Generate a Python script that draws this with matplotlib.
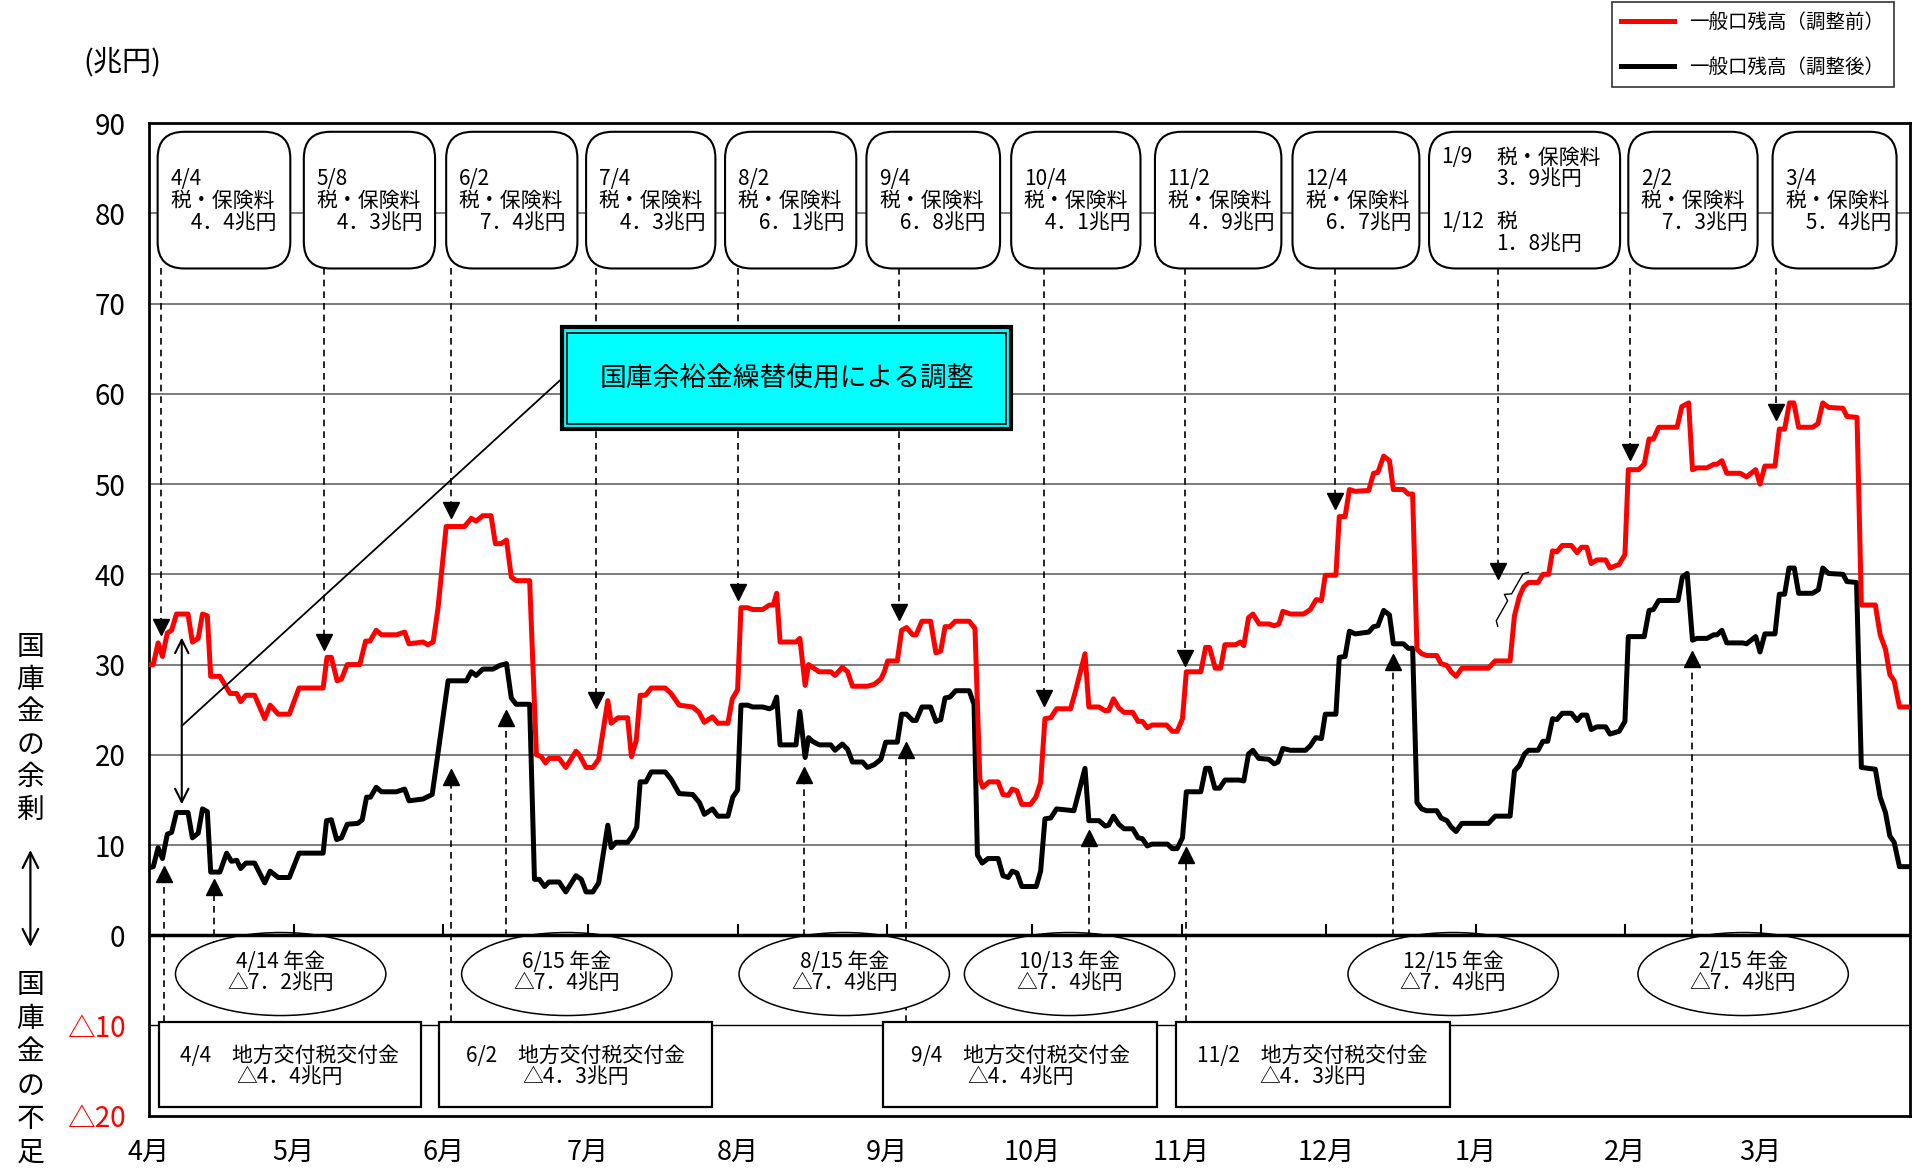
import matplotlib
matplotlib.use('Agg')
import matplotlib.pyplot as plt
from matplotlib.patches import FancyBboxPatch, Ellipse, Rectangle

plt.rcParams['font.family'] = ['Noto Sans CJK JP', 'DejaVu Sans']

# 年度の日数（4月1日 = 0）
month_names = ['4月', '5月', '6月', '7月', '8月', '9月', '10月', '11月', '12月', '1月', '2月', '3月']
month_days = [30, 31, 30, 31, 31, 30, 31, 30, 31, 31, 28, 31]

# 一般口残高（調整前）
red_day = [0.2, 0.9, 1.9, 2.8, 3.8, 4.7, 5.7, 8.1, 9.0, 10.2, 11.1, 12.1, 12.8, 14.7, 16.8, 18.2,
           19.0, 20.1, 21.9, 24.0, 25.1, 26.8, 29.1, 31.1, 36.1, 36.9, 37.8, 39.0, 39.9, 41.1, 43.7,
           44.9, 45.8, 47.1, 48.2, 51.3, 53.0, 53.9, 56.8, 57.8, 58.9, 59.9, 61.6, 65.4, 66.8, 67.8,
           69.2, 70.9, 71.8, 73.0, 74.1, 75.1, 76.1, 78.9, 80.3, 81.3, 82.2, 82.9, 85.0, 86.4, 88.5,
           89.2, 90.6, 92.0, 93.2, 95.1, 95.8, 97.2, 99.2, 100.0, 101.0, 101.8, 102.9, 104.1, 107.0,
           108.2, 109.9, 112.7, 114.0, 115.1, 116.8, 117.9, 120.0, 120.9, 122.0, 122.7, 124.1, 125.1,
           127.2, 128.6, 129.4, 130.1, 130.8, 134.1, 134.9, 136.0, 136.7, 137.5, 138.9, 141.3, 142.2,
           143.7, 144.8, 145.8, 148.9, 150.3, 151.7, 152.4, 153.1, 155.1, 156.0, 157.0, 158.3, 159.0,
           160.2, 162.0, 163.1, 164.1, 165.0, 166.0, 167.1, 170.0, 171.2, 172.2, 172.8, 174.1, 176.0,
           177.0, 178.1, 178.9, 179.9, 180.9, 182.7, 183.8, 184.8, 185.7, 186.9, 188.1, 191.0, 192.0,
           194.0, 194.8, 196.9, 198.1, 198.9, 199.9, 201.0, 202.1, 203.9, 205.0, 205.9, 206.9, 207.9,
           210.9, 212.1, 213.1, 214.2, 215.0, 218.0, 219.0, 219.8, 221.0, 222.1, 223.0, 225.2, 226.2,
           226.9, 227.9, 228.8, 230.1, 232.1, 233.2, 234.2, 235.0, 236.6, 239.3, 240.7, 241.9, 243.0,
           243.8, 246.0, 246.7, 247.9, 248.8, 250.0, 252.8, 253.8, 254.7, 255.9, 257.1, 257.9, 260.0,
           261.0, 261.9, 262.8, 263.8, 264.8, 266.9, 267.8, 269.0, 269.9, 270.9, 272.1, 277.6, 279.0,
           282.1, 283.0, 284.0, 284.9, 285.9, 287.9, 288.9, 290.1, 290.9, 291.8, 292.9, 294.8, 296.0,
           296.9, 298.0, 298.9, 300.1, 301.9, 302.8, 304.7, 305.9, 306.6, 308.7, 309.9, 310.9, 311.8,
           312.9, 316.7, 317.7, 319.1, 319.9, 320.8, 322.9, 324.3, 325.0, 326.0, 327.0, 329.8, 331.1,
           333.0, 333.9, 334.9, 337.0, 337.9, 339.0, 340.0, 340.9, 341.9, 344.8, 345.9, 346.9, 348.1,
           351.1, 351.9, 354.0, 354.9, 357.8, 358.8, 359.9, 360.8, 361.7, 362.8, 365.0]
red_val = [30.0, 30.0, 32.4, 30.9, 33.5, 33.8, 35.6, 35.6, 32.5, 32.9, 35.6, 35.4, 28.7, 28.7, 26.8, 26.8,
           25.9, 26.6, 26.6, 24.0, 25.5, 24.5, 24.5, 27.4, 27.4, 30.8, 30.8, 28.2, 28.4, 30.0, 30.0,
           32.6, 32.6, 33.8, 33.3, 33.3, 33.6, 32.3, 32.5, 32.2, 32.5, 36.2, 45.3, 45.3, 46.2, 45.9,
           46.5, 46.5, 43.4, 43.4, 43.8, 39.7, 39.3, 39.3, 20.0, 19.8, 19.1, 19.6, 19.6, 18.6, 20.4,
           20.0, 18.6, 18.6, 19.5, 26.0, 23.5, 24.1, 24.1, 19.8, 21.6, 26.6, 26.6, 27.4, 27.4,
           26.8, 25.5, 25.3, 24.7, 23.6, 24.2, 23.5, 23.5, 26.2, 27.2, 36.3, 36.3, 36.1,
           36.1, 36.6, 36.6, 37.9, 32.5, 32.5, 32.9, 27.7, 30.0, 29.7, 29.2, 29.2, 28.8,
           29.7, 29.2, 27.6, 27.6, 27.8, 28.4, 29.2, 30.4, 30.4, 33.8, 34.1, 33.3, 33.3,
           34.8, 34.8, 31.3, 31.5, 34.2, 34.2, 34.8, 34.8, 34.0, 17.3, 16.4, 17.0, 17.0,
           15.6, 15.5, 16.2, 16.0, 14.5, 14.5, 15.3, 16.9, 24.0, 24.1, 25.1, 25.1, 27.0,
           31.2, 25.3, 25.3, 24.9, 24.9, 26.2, 25.2, 24.7, 24.7, 23.7, 23.7, 23.0, 23.3,
           23.3, 22.6, 22.6, 24.0, 29.2, 29.2, 31.9, 31.9, 29.6, 29.6, 32.2, 32.2, 32.5,
           32.1, 35.2, 35.6, 34.5, 34.5, 34.3, 34.5, 35.9, 35.6, 35.6, 36.1, 37.2, 37.1,
           39.9, 39.9, 46.4, 46.4, 49.4, 49.2, 49.3, 51.2, 51.3, 53.1, 52.6, 49.4, 49.4,
           48.9, 48.9, 31.7, 31.2, 31.0, 31.0, 30.1, 29.9, 29.2, 28.7, 29.6, 29.6, 30.4,
           30.4, 35.4, 37.5, 38.6, 39.1, 39.1, 40.0, 40.0, 42.6, 42.5, 43.2, 43.2, 42.4,
           43.0, 43.0, 41.2, 41.6, 41.6, 40.7, 41.1, 42.2, 51.6, 51.6, 52.2, 55.0, 55.0,
           56.3, 56.3, 58.6, 59.0, 51.6, 51.8, 51.8, 52.2, 52.2, 52.6, 51.2, 51.2, 50.8,
           51.6, 50.0, 52.0, 52.0, 56.1, 56.1, 59.0, 59.0, 56.3, 56.3, 56.7, 59.0, 58.5,
           58.4, 57.5, 57.4, 36.6, 36.6, 33.3, 31.7, 28.9, 28.2, 25.3, 25.3]

# 一般口残高（調整後）
black_day = [0.2, 0.9, 1.9, 2.8, 3.8, 4.7, 5.7, 8.1, 9.0, 10.2, 11.1, 12.1, 12.8, 14.7, 16.1, 17.1,
             18.2, 19.0, 20.1, 21.9, 24.0, 25.1, 26.8, 29.1, 31.1, 36.1, 36.8, 37.8, 38.9, 39.9, 41.1,
             43.3, 44.2, 45.1, 45.9, 47.1, 48.2, 51.3, 53.0, 53.9, 56.8, 58.7, 59.6, 62.0, 65.8, 66.8,
             67.8, 69.2, 71.3, 72.7, 74.1, 75.1, 76.1, 78.9, 79.9, 80.9, 82.0, 82.9, 85.0, 86.4, 88.5,
             89.6, 90.6, 92.0, 93.2, 95.1, 95.8, 96.8, 99.2, 100.2, 101.1, 101.8, 103.0, 104.1, 107.0,
             108.2, 109.9, 112.7, 114.1, 115.1, 116.8, 117.9, 120.0, 121.0, 122.0, 122.7, 124.1, 125.1,
             127.2, 128.6, 129.3, 130.1, 130.8, 134.1, 134.9, 136.0, 136.7, 137.5, 138.9, 141.3, 142.2,
             143.7, 144.8, 145.8, 147.9, 148.9, 150.3, 151.7, 152.7, 155.1, 156.0, 157.0, 158.3, 159.0,
             160.2, 162.0, 163.1, 164.1, 165.0, 166.0, 167.2, 170.0, 171.0, 171.7, 172.7, 173.9, 176.0,
             177.0, 178.1, 178.9, 179.9, 180.9, 183.9, 184.8, 185.7, 186.9, 188.1, 191.7, 194.0, 194.8,
             196.9, 198.2, 198.9, 199.9, 201.0, 202.1, 203.9, 205.0, 205.9, 206.9, 207.9, 211.1, 212.1,
             213.1, 214.2, 215.0, 218.0, 219.0, 219.8, 220.9, 221.9, 223.0, 225.9, 226.9, 227.9, 228.8,
             230.0, 232.1, 233.2, 234.0, 235.0, 236.6, 239.7, 240.7, 241.8, 243.0, 243.8, 246.0, 246.7,
             247.9, 248.8, 250.0, 252.8, 253.8, 254.7, 255.9, 257.1, 257.9, 260.0, 261.0, 261.9, 262.8,
             263.8, 264.8, 266.9, 267.8, 269.0, 269.9, 270.9, 272.1, 277.6, 279.0, 282.1, 283.0, 284.0,
             285.1, 285.9, 287.9, 288.9, 289.9, 290.9, 291.8, 292.9, 294.8, 296.0, 296.9, 298.0, 298.9,
             300.1, 301.9, 302.8, 304.7, 305.9, 306.6, 309.9, 310.9, 311.8, 312.9, 316.9, 317.8, 318.8,
             319.9, 320.8, 322.9, 324.3, 325.0, 326.0, 327.0, 330.3, 331.1, 333.0, 333.9, 334.9, 337.0,
             337.9, 339.0, 339.9, 341.0, 341.9, 344.8, 346.0, 346.9, 348.1, 351.1, 351.9, 353.9, 354.9,
             357.8, 358.8, 359.9, 360.8, 361.7, 362.8, 365.0]
black_val = [7.5, 7.6, 9.7, 8.5, 11.2, 11.4, 13.6, 13.6, 10.8, 11.3, 14.0, 13.7, 7.0, 7.0, 9.1, 8.2,
             8.3, 7.4, 8.0, 8.0, 5.8, 7.1, 6.4, 6.4, 9.1, 9.1, 12.7, 12.8, 10.6, 10.8, 12.3,
             12.4, 12.8, 15.3, 15.3, 16.4, 15.9, 15.9, 16.2, 14.9, 15.1, 15.6, 19.0, 28.2, 28.2, 29.2,
             28.8, 29.5, 29.5, 29.9, 30.1, 26.3, 25.6, 25.6, 6.2, 6.2, 5.4, 5.9, 5.9, 4.8, 6.6,
             6.2, 4.8, 4.8, 5.8, 12.2, 9.7, 10.3, 10.3, 11.0, 12.0, 17.0, 17.0, 18.1, 18.1,
             17.3, 15.7, 15.6, 14.7, 13.4, 14.0, 13.2, 13.2, 15.3, 16.1, 25.5, 25.5, 25.3,
             25.3, 25.1, 25.3, 26.4, 21.1, 21.1, 24.8, 19.7, 21.9, 21.5, 21.1, 21.1, 20.5,
             21.2, 20.6, 19.2, 19.2, 18.6, 18.9, 19.5, 21.4, 21.4, 24.5, 24.5, 23.8, 23.8,
             25.3, 25.3, 23.7, 23.9, 26.3, 26.4, 27.1, 27.1, 25.6, 8.9, 8.0, 8.5, 8.5,
             6.6, 6.4, 7.1, 6.9, 5.4, 5.4, 7.1, 12.9, 13.0, 14.0, 13.8, 18.5, 12.7,
             12.7, 12.1, 12.2, 13.2, 12.3, 11.8, 11.8, 10.8, 10.7, 9.9, 10.1, 10.1, 9.6,
             9.6, 10.8, 15.9, 15.9, 18.5, 18.5, 16.3, 16.3, 17.2, 17.2, 17.1, 20.1, 20.5,
             19.6, 19.5, 19.0, 19.2, 20.7, 20.5, 20.5, 21.0, 21.9, 21.8, 24.5, 24.5, 30.8,
             30.9, 33.7, 33.4, 33.6, 34.2, 34.3, 36.0, 35.5, 32.3, 32.3, 31.8, 31.8, 14.7,
             14.0, 13.8, 13.8, 13.0, 12.7, 12.0, 11.5, 12.4, 12.4, 13.2, 13.2, 18.2, 18.8,
             20.1, 20.5, 20.5, 21.5, 21.5, 24.0, 23.9, 24.6, 24.6, 23.8, 24.4, 24.4, 22.8,
             23.1, 23.1, 22.3, 22.6, 23.7, 33.1, 33.1, 36.0, 36.1, 37.1, 37.1, 39.7, 40.1,
             32.7, 32.9, 32.9, 33.3, 33.3, 33.8, 32.4, 32.4, 32.3, 33.1, 31.4, 33.4, 33.4,
             37.8, 37.8, 40.7, 40.7, 37.9, 37.9, 38.3, 40.7, 40.1, 40.0, 39.2, 39.1, 18.6,
             18.4, 15.3, 13.6, 11.0, 10.3, 7.6, 7.6]

# 税・保険料（上段の注記）
tax_dates = ['4/4', '5/8', '6/2', '7/4', '8/2', '9/4', '10/4', '11/2', '12/4', '2/2', '3/4']
tax_amounts = [4.4, 4.3, 7.4, 4.3, 6.1, 6.8, 4.1, 4.9, 6.7, 7.3, 5.4]
tax_box_x = [(1.8, 29.3), (32.1, 59.3), (61.6, 88.8), (90.6, 117.4), (119.4, 146.6),
             (148.7, 176.4), (178.7, 205.5), (208.5, 234.7), (237.0, 263.3),
             (306.6, 333.4), (336.5, 362.2)]
jan_box_x = (265.3, 304.9)
jan_amounts = [3.9, 1.8]
# 矢印の先（調整前の線の上）
down_day = [2.6, 36.3, 62.7, 92.7, 122.1, 155.5, 185.5, 214.8, 245.8, 279.6, 306.9, 337.3]
down_tip = [33.3, 31.7, 46.3, 25.2, 37.2, 35.0, 25.5, 29.9, 47.3, 39.5, 52.7, 57.2]

# 年金（楕円）
pension_dates = ['4/14', '6/15', '8/15', '10/13', '12/15', '2/15']
pension_amounts = [7.2, 7.4, 7.4, 7.4, 7.4, 7.4]
pension_center = [27.3, 86.6, 144.1, 190.8, 270.3, 330.4]

# 地方交付税交付金（下段の箱）
grant_dates = ['4/4', '6/2', '9/4', '11/2']
grant_amounts = [4.4, 4.3, 4.4, 4.3]
grant_box_x = [(2.0, 56.3), (60.1, 116.6), (152.2, 209.0), (212.8, 269.6)]

# 矢印の先（調整後の線の下）
up_day = [3.1, 13.5, 62.7, 74.1, 135.8, 157.0, 194.8, 215.0, 257.9, 319.9]
up_tip = [7.6, 6.2, 18.4, 24.9, 18.6, 21.4, 11.6, 9.7, 31.1, 31.5]
up_from = [-9.6, -4.0, -9.6, -4.0, -4.0, -9.6, -4.0, -9.6, -4.0, -4.0]


def zen(v):
    return f'{v:.1f}'.replace('.', '．')


fig = plt.figure(figsize=(19.12, 11.69), dpi=100)
ax_pos = [0.0779, 0.0456, 0.999 - 0.0779, 0.8946 - 0.0456]
ax = fig.add_axes(ax_pos)
ax.set_xlim(0, 365)
ax.set_ylim(-20, 90)

ppd = fig.get_figwidth() * 100 * ax_pos[2] / 365   # px / day
ppu = fig.get_figheight() * 100 * ax_pos[3] / 110  # px / 兆円
aspect = ppd / ppu
ms = 11
tri = ms / 2 / 72 * 100 / ppu   # 三角マーカーの半分の高さ（データ単位）
fs = 15

# 目盛り・グリッド
month_start = [sum(month_days[:i]) for i in range(12)]
ax.set_xticks(month_start)
ax.set_xticklabels(month_names)
ax.tick_params(axis='x', length=0, pad=17, labelsize=19.5)
yt = list(range(-20, 91, 10))
ax.set_yticks(yt)
ax.set_yticklabels([('△' + str(-v)) if v < 0 else str(v) for v in yt])
ax.tick_params(axis='y', length=0, pad=17, labelsize=20)
for lbl, v in zip(ax.get_yticklabels(), yt):
    if v < 0:
        lbl.set_color('red')
for s in ax.spines.values():
    s.set_linewidth(2)

for v in range(10, 81, 10):
    ax.axhline(v, color='#666666', lw=1.2, zorder=0.5)
ax.axhline(-10, color='black', lw=1, zorder=0.5)
ax.axhline(0, color='black', lw=2.5, zorder=3)
ax.vlines(month_start[1:], 0, 1.2, color='black', lw=1.5, zorder=3)

# 残高の線
l_black, = ax.plot(black_day, black_val, color='black', lw=3.6, solid_joinstyle='round', zorder=4)
l_red, = ax.plot(red_day, red_val, color='red', lw=3.6, solid_joinstyle='round', zorder=4)

# 上段の箱
for (x0, x1), d, a in zip(tax_box_x, tax_dates, tax_amounts):
    ax.add_patch(FancyBboxPatch((x0, 73.9), x1 - x0, 15.15, boxstyle='round,pad=0,rounding_size=5.5',
                                mutation_aspect=aspect, fc='white', ec='black', lw=1.5, zorder=2))
    for y, t in zip([83.8, 81.4, 78.9], [d, '税・保険料', '\u3000' + zen(a) + '兆円']):
        ax.text(x0 + 2.6, y, t, fontsize=fs, ha='left', va='center', zorder=3)
x0, x1 = jan_box_x
ax.add_patch(FancyBboxPatch((x0, 73.9), x1 - x0, 15.15, boxstyle='round,pad=0,rounding_size=5.5',
                            mutation_aspect=aspect, fc='white', ec='black', lw=1.5, zorder=2))
for y, t in zip([86.2, 79.05], ['1/9', '1/12']):
    ax.text(x0 + 2.6, y, t, fontsize=fs, ha='left', va='center', zorder=3)
for y, t in zip([86.2, 83.8, 79.05, 76.6],
                ['税・保険料', zen(jan_amounts[0]) + '兆円', '税', zen(jan_amounts[1]) + '兆円']):
    ax.text(x0 + 13.9, y, t, fontsize=fs, ha='left', va='center', zorder=3)

for x, tip in zip(down_day, down_tip):
    ax.plot([x, x], [73.9, tip + tri], color='black', lw=1.2, ls=(0, (4, 3)), zorder=1)
    ax.plot(x, tip + tri, marker='v', ms=ms, color='black', ls='none', zorder=5)

for x, tip, y0 in zip(up_day, up_tip, up_from):
    ax.plot([x, x], [y0, tip - tri], color='black', lw=1.2, ls=(0, (4, 3)), zorder=1)
    ax.plot(x, tip - tri, marker='^', ms=ms, color='black', ls='none', zorder=5)

# 年金の楕円
for c, d, a in zip(pension_center, pension_dates, pension_amounts):
    ax.add_patch(Ellipse((c, -4.3), 43.6, 9.2, fc='white', ec='black', lw=1.1, zorder=2))
    ax.text(c, -3.0, d + ' 年金', fontsize=fs, ha='center', va='center', zorder=3)
    ax.text(c, -5.3, '△' + zen(a) + '兆円', fontsize=fs, ha='center', va='center', zorder=3)

# 地方交付税交付金
for (x0, x1), d, a in zip(grant_box_x, grant_dates, grant_amounts):
    ax.add_patch(Rectangle((x0, -19.05), x1 - x0, 9.45, fc='white', ec='black', lw=1.6, zorder=2))
    xc = (x0 + x1) / 2
    ax.text(xc, -13.4, d + '\u3000地方交付税交付金', fontsize=fs, ha='center', va='center', zorder=3)
    ax.text(xc, -15.7, '△' + zen(a) + '兆円', fontsize=fs, ha='center', va='center', zorder=3)

# 国庫余裕金繰替使用による調整
ax.add_patch(Rectangle((85.6, 56.1), 93.1, 11.3, fc='#00FFFF', ec='black', lw=3, zorder=6))
ax.add_patch(Rectangle((86.6, 56.7), 91.1, 10.1, fill=False, ec='black', lw=1.2, zorder=6))
ax.text(132.15, 61.75, '国庫余裕金繰替使用による調整', fontsize=19.3, ha='center', va='center', zorder=7)
ax.plot([6.8, 85.8], [23.2, 61.8], color='black', lw=1.3, zorder=5)
ax.annotate('', xy=(6.8, 33.0), xytext=(6.8, 14.5),
            arrowprops=dict(arrowstyle='<->', lw=1.5, mutation_scale=24, shrinkA=0, shrinkB=0), zorder=5)

# 1/9付近の波かっこ（画素単位の形を線に沿って置く）
bu = [31.0, 27.0, 4.0, 0.0, -4.0, -27.0, -31.0]
bv = [4.0, 0.0, 0.0, -6.0, 0.0, 0.0, 4.0]
ux, uy = 0.495, 0.868
vx, vy = 0.868, -0.495
bx = [282.0 + (u * ux + v * vx) / ppd for u, v in zip(bu, bv)]
by = [37.45 + (u * uy + v * vy) / ppu for u, v in zip(bu, bv)]
ax.plot(bx, by, color='black', lw=1.0, zorder=5)

# 左の説明
for i, ch in enumerate('国庫金の余剰'):
    fig.text(0.0159, 1 - (647 + 32.6 * i) / 1169, ch, ha='center', va='center', fontsize=20)
for i, ch in enumerate('国庫金の不足'):
    fig.text(0.0159, 1 - (985 + 33.6 * i) / 1169, ch, ha='center', va='center', fontsize=20)
ax.annotate('', xy=(0.0159, 1 - 850 / 1169), xycoords='figure fraction',
            xytext=(0.0159, 1 - 947 / 1169), textcoords='figure fraction',
            arrowprops=dict(arrowstyle='<->', lw=1.6, mutation_scale=28, shrinkA=0, shrinkB=0))
fig.text(0.064, 1 - 62 / 1169, '(兆円)', ha='center', va='center', fontsize=21)

# 凡例
leg = fig.legend([l_red, l_black], ['一般口残高（調整前）', '一般口残高（調整後）'],
                 loc='upper right', bbox_to_anchor=(0.9906, 0.998), borderaxespad=0,
                 fontsize=14, frameon=True, fancybox=False, edgecolor='#333333', framealpha=1,
                 handlelength=2.7, handletextpad=0.8, labelspacing=1.2, borderpad=0.5)
leg.get_frame().set_linewidth(1.2)

fig.savefig('out.png', dpi=100)
